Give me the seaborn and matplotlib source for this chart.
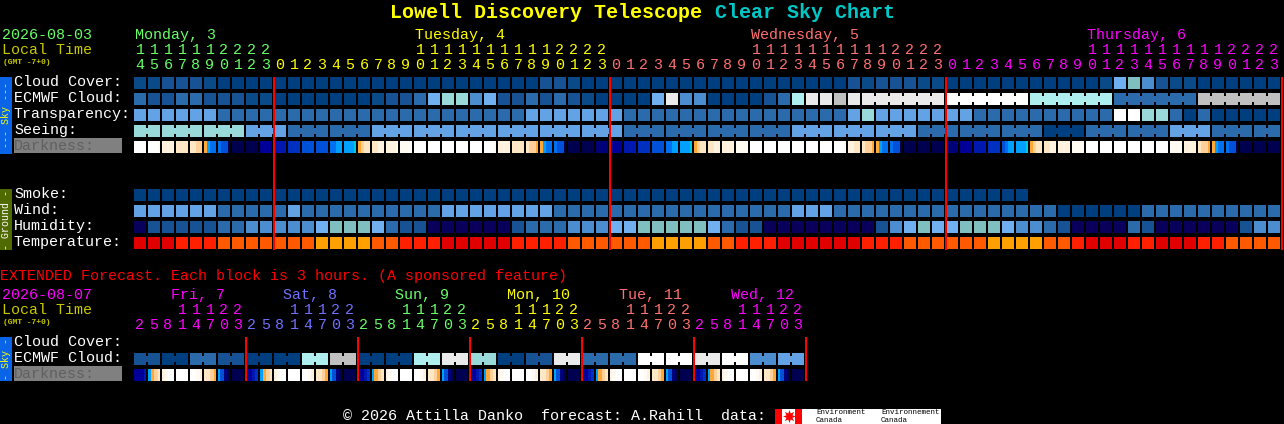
# ==========================================================
# Lowell Discovery Telescope - Clear Sky Chart
# ==========================================================

import numpy as np
import matplotlib
matplotlib.use("Agg")
import matplotlib.pyplot as plt
import seaborn as sns
from matplotlib.colors import ListedColormap
from matplotlib.patches import Rectangle

# ==========================================================
# Colours (one palette per kind of row)
# ==========================================================

sky_colors = ["#003f7f", "#0b4a88", "#175394", "#2c6bab", "#4c8dcf", "#63a3e5", "#70b0f0",
              "#80bfbf", "#99d9d9", "#aeeeee", "#c0c0c0", "#eaeaea", "#ffffff", "#08005a"]
temp_colors = ["#e00000", "#ff2000", "#ff5a00", "#ffa000"]
dark_colors = ["#ffffff", "#fffaf2", "#fff2df", "#ffe6c4", "#ffd09a", "#ffa838", "#00c8e0", "#00a0ff",
               "#0070f0", "#0050d8", "#0030c0", "#0018b0", "#000098", "#000078", "#000050"]

# ==========================================================
# Hourly forecast (82 columns, 14h Monday to 23h Thursday)
# ==========================================================

hours = [14, 15, 16, 17, 18, 19, 20, 21, 22, 23] + list(range(24)) * 3

cloud = [1, 1, 2, 2, 2, 1, 0, 0, 0, 0,
         0, 0, 0, 0, 0, 0, 0, 0, 0, 0, 0, 0, 0, 0, 0, 0, 0, 0, 0, 2, 2, 1, 0, 0,
         0, 0, 0, 0, 0, 0, 0, 0, 0, 0, 0, 0, 0, 0, 0, 0, 0, 2, 1, 2, 2, 2, 1, 1,
         0, 0, 0, 0, 0, 0, 0, 0, 0, 0, 0, 1, 6, 7, 4, 2, 1, 1, 0, 0, 0, 0, 0, 0]
ecmwf = [3, 2, 2, 3, 3, 2, 2, 2, 1, 1,
         0, 0, 0, 0, 0, 0, 0, 1, 2, 2, 3, 6, 8, 8, 4, 6, 2, 2, 3, 2, 3, 2, 1, 0,
         0, 0, 0, 6, 11, 4, 4, 0, 0, 0, 0, 2, 3, 9, 11, 11, 10, 11, 11, 11, 11, 11, 11, 11,
         12, 12, 12, 12, 12, 12, 9, 9, 9, 9, 9, 9, 3, 3, 3, 3, 3, 3, 10, 10, 10, 10, 10, 10]
transparency = [5, 5, 5, 5, 5, 5, 3, 3, 3, 3,
                3, 3, 3, 3, 3, 3, 3, 3, 3, 3, 3, 3, 3, 3, 3, 3, 3, 3, 5, 5, 5, 5, 5, 5,
                5, 3, 3, 3, 3, 3, 3, 3, 3, 3, 3, 3, 3, 3, 3, 3, 3, 5, 8, 5, 5, 5, 5, 5,
                5, 5, 3, 3, 3, 3, 3, 3, 3, 3, 3, 3, 12, 12, 8, 8, 3, 0, 3, 0, 0, 0, 0, 0]
seeing = [8, 8, 8, 8, 8, 8, 8, 8, 5, 5,
          5, 3, 3, 3, 3, 3, 3, 5, 5, 5, 5, 5, 5, 5, 5, 5, 5, 5, 5, 5, 5, 5, 5, 5,
          5, 3, 3, 3, 3, 3, 3, 3, 3, 3, 3, 3, 3, 5, 5, 5, 5, 5, 5, 5, 5, 5, 3, 3,
          3, 3, 3, 3, 3, 3, 3, 0, 0, 0, 3, 3, 3, 3, 3, 3, 5, 5, 5, 3, 3, 3, 3, 3]
smoke = [0] * 64 + [np.nan] * 18
wind = [5, 5, 5, 5, 5, 5, 3, 3, 3, 3,
        3, 5, 3, 3, 3, 3, 3, 3, 3, 3, 3, 3, 5, 5, 5, 5, 5, 5, 5, 5, 3, 3, 3, 3,
        3, 3, 3, 3, 3, 3, 3, 3, 3, 3, 3, 3, 3, 5, 5, 5, 3, 3, 3, 3, 3, 3, 3, 3,
        3, 3, 3, 3, 3, 3, 3, 3, 0, 0, 0, 0, 0, 0, 3, 3, 3, 3, 3, 3, 3, 3, 3, 3]
humidity = [13, 2, 2, 2, 2, 2, 3, 3, 4, 4,
            4, 4, 4, 6, 7, 7, 7, 6, 3, 2, 2, 13, 13, 13, 13, 13, 13, 2, 3, 3, 3, 4, 4, 4,
            6, 6, 7, 7, 7, 7, 7, 6, 3, 2, 2, 13, 13, 13, 13, 13, 13, 13, 13, 2, 4, 6, 7, 6,
            6, 7, 7, 7, 6, 4, 4, 3, 2, 13, 13, 13, 13, 3, 2, 13, 13, 13, 13, 13, 13, 2, 4, 4]
temperature = [0, 0, 0, 1, 1, 1, 2, 2, 2, 2,
               2, 2, 2, 3, 3, 3, 3, 2, 2, 1, 1, 1, 0, 0, 0, 0, 0, 1, 1, 1, 1, 2, 2, 2,
               2, 2, 2, 3, 3, 3, 3, 2, 2, 1, 1, 1, 0, 0, 0, 0, 0, 0, 1, 1, 1, 2, 2, 2,
               2, 2, 2, 3, 3, 3, 3, 2, 2, 1, 0, 0, 0, 1, 1, 0, 0, 0, 1, 1, 2, 2, 2, 2]

# Darkness changes within an hour, so each cell holds 4 samples (hex index into dark_colors)
darkness = ["0000", "0001", "2222", "3333", "3344", "5788", "899e", "eeee", "eeee", "cccc",
            "bbbb", "aaaa", "9999", "9999", "8877", "7776", "5433", "3322", "2221", "1110",
            "0000", "0000", "0000", "0000", "0000", "0001", "2222", "3333", "3445", "5788",
            "899e", "eeee", "eeee", "dddd",
            "cccc", "bbbb", "aaaa", "9999", "8877", "7776", "5433", "3322", "2222", "1111",
            "0000", "0000", "0000", "0000", "0000", "0000", "0001", "2233", "3445", "5788",
            "899e", "eeee", "eeee", "eeee",
            "dddd", "cccc", "bbbb", "aaaa", "9877", "7776", "5433", "3322", "2222", "1111",
            "0000", "0000", "0000", "0000", "0000", "0000", "1111", "2222", "3445", "5788",
            "899e", "eeee", "eeee", "eeee"]

seeing_groups = [2] + [3] * 26 + [2]
ecmwf_groups = [1] * 52 + [6] * 5

day_names = ["Monday, 3", "Tuesday, 4", "Wednesday, 5", "Thursday, 6"]
day_colors = ["#66ff66", "#ffff00", "#ff7070", "#ff00ff"]
day_label_cols = [0, 20, 44, 68]
day_breaks = [10, 34, 58, 82]

# ==========================================================
# Extended forecast (48 columns, 3 hour blocks)
# ==========================================================

ext_hours = [2, 5, 8, 11, 14, 17, 20, 23] * 6
ext_ecmwf = [2, 0, 3, 2, 0, 0, 9, 10, 0, 0, 9, 11, 8, 0, 2, 11, 3, 3, 12, 12, 11, 12, 4, 5]
ext_darkness = ["cccb", "7543", "2100", "0000", "0012", "3345", "79de", "eeee",
                "dcba", "7543", "2100", "0000", "0012", "3345", "79de", "eeee",
                "dcba", "7543", "2100", "0000", "0012", "3345", "79de", "eeee",
                "dcba", "7543", "2100", "0000", "0012", "3345", "79de", "eeee",
                "dcba", "7543", "2100", "0000", "0012", "3345", "79de", "eeee",
                "dcba", "7543", "2100", "0000", "0012", "3345", "79de", "eeee"]

ext_names = ["Fri, 7", "Sat, 8", "Sun, 9", "Mon, 10", "Tue, 11", "Wed, 12"]
ext_colors = ["#ff00ff", "#7070ff", "#66ff66", "#ffff00", "#ff7070", "#ff00ff"]

# ==========================================================
# Figure setup (everything is laid out in pixels)
# ==========================================================

W, H = 1284, 424
LEFT, CELL = 134, 14

sns.set_theme(style="dark", rc={"figure.facecolor": "black", "axes.facecolor": "black", "savefig.facecolor": "black"})
plt.rcParams["font.family"] = ["Liberation Mono"]

fig = plt.figure(figsize=(W / 100, H / 100), dpi=100)


def px(n):
    # just under n pixels, otherwise agg snaps the line half a pixel off
    return n * 0.995 * 72 / 100


def heat_row(y, values, colors, samples=1):
    # axes are exactly the 12px high row, black lines make the 2px gaps between cells
    ncols = len(values) // samples
    ax = fig.add_axes([(LEFT - 1) / W, 1 - (y + 12) / H, ncols * CELL / W, 12 / H])
    sns.heatmap(np.array([values], dtype=float), ax=ax, cmap=ListedColormap(colors), vmin=-0.5,
                vmax=len(colors) - 0.5, cbar=False, xticklabels=False, yticklabels=False)
    ax.vlines(np.arange(ncols + 1) * samples, 0, 1, colors="black", linewidth=px(2))
    ax.axis("off")
    return ax


def draw_row(y, values, colors, groups=None):
    ax = heat_row(y, values, colors)
    # joined cells come from the same model run
    if groups:
        start = 0
        for size in groups:
            for col in range(start + 1, start + size):
                ax.vlines(col, 0.25, 0.75, colors=colors[int(values[col])], linewidth=px(2))
            start += size


def draw_darkness(y, samples):
    values = [int(c, 16) for c in "".join(samples)]
    heat_row(y, values, dark_colors, samples=4)


draw_row(77, cloud, sky_colors)
draw_row(93, ecmwf, sky_colors, ecmwf_groups)
draw_row(109, transparency, sky_colors)
draw_row(125, seeing, sky_colors, seeing_groups)
draw_darkness(141, darkness)
draw_row(189, smoke, sky_colors)
draw_row(205, wind, sky_colors)
draw_row(221, humidity, sky_colors)
draw_row(237, temperature, temp_colors)
draw_row(353, list(np.repeat(ext_ecmwf, 2)), sky_colors, [2] * 24)
draw_darkness(369, ext_darkness)

# ==========================================================
# Text, side bars and day lines on a full size overlay
# ==========================================================

top = fig.add_axes([0, 0, 1, 1], zorder=10)
top.set_xlim(0, W)
top.set_ylim(H, 0)
top.axis("off")
top.patch.set_visible(False)

FS = 15 * 72 / 100


def label(x, y, text, color="white", size=FS, **kwargs):
    kwargs.setdefault("ha", "left")
    top.text(x, y, text, color=color, fontsize=size, va="center", **kwargs)


def day_line(x, y0, y1):
    top.add_patch(Rectangle((x - 1, y0), 2, y1 - y0, color="#ff0000", lw=0, antialiased=False))


# title
label(390, 12, "Lowell Discovery Telescope", "#ffff00", 20 * 0.72, fontweight="bold")
label(715, 12, "Clear Sky Chart", "#00c8c8", 20 * 0.72, fontweight="bold")

# main header
label(2, 35, "2026-08-03", "#66ff66")
label(2, 50, "Local Time", "#c8c800")
label(3, 62, "(GMT -7+0)", "#c8c800", 8 * 0.72, fontweight="bold")
for name, color, col in zip(day_names, day_colors, day_label_cols):
    label(LEFT + col * CELL + 1, 35, name, color)

start = 0
for color, stop in zip(day_colors, day_breaks):
    for col in range(start, stop):
        x = LEFT + col * CELL + 6
        if hours[col] >= 10:
            label(x, 50, str(hours[col] // 10), color, ha="center")
        label(x, 65, str(hours[col] % 10), color, ha="center")
    start = stop

# row names
for y, name in zip([82, 98, 114, 130], ["Cloud Cover:", "ECMWF Cloud:", "Transparency:", "Seeing:"]):
    label(14, y, name)
for y, name in zip([194, 210, 226, 242], ["Smoke:", "Wind:", "Humidity:", "Temperature:"]):
    label(14, y, name)
for y, name in zip([342, 358], ["Cloud Cover:", "ECMWF Cloud:"]):
    label(14, y, name)

top.add_patch(Rectangle((14, 138), 108, 15, color="#808080", lw=0))
label(14, 146, "Darkness:", "#606060")
top.add_patch(Rectangle((14, 366), 108, 15, color="#808080", lw=0))
label(14, 374, "Darkness:", "#606060")

# side bars
top.add_patch(Rectangle((0, 77), 12, 77, color="#0a64e8", lw=0))
top.add_patch(Rectangle((0, 189), 12, 61, color="#4f6a00", lw=0))
top.add_patch(Rectangle((0, 337), 12, 44, color="#0a64e8", lw=0))
label(6, 115.5, "--- Sky ---", "#ffff00", 10 * 0.72, rotation=90, ha="center", rotation_mode="anchor")
label(6, 219.5, "- Ground -", "white", 10 * 0.72, rotation=90, ha="center", rotation_mode="anchor")
label(6, 359, "- Sky -", "#ffff00", 10 * 0.72, rotation=90, ha="center", rotation_mode="anchor")

# day lines
for stop in day_breaks:
    day_line(LEFT + stop * CELL, 77, 250)

# extended forecast header
label(0, 276, "EXTENDED Forecast. Each block is 3 hours. (A sponsored feature)", "#ff0000")
label(2, 295, "2026-08-07", "#ff00ff")
label(2, 310, "Local Time", "#c8c800")
label(3, 322, "(GMT -7+0)", "#c8c800", 8 * 0.72, fontweight="bold")
for day, (name, color) in enumerate(zip(ext_names, ext_colors)):
    first = day * 8
    label(LEFT + first * CELL + 37, 295, name, color)
    for col in range(first, first + 8):
        x = LEFT + col * CELL + 6
        if ext_hours[col] >= 10:
            label(x, 310, str(ext_hours[col] // 10), color, ha="center")
        label(x, 325, str(ext_hours[col] % 10), color, ha="center")
    day_line(LEFT + (first + 8) * CELL, 337, 381)

# footer and logos
label(343, 416, "\u00a9 2026 Attilla Danko  forecast: A.Rahill  data:")
top.add_patch(Rectangle((775, 409), 166, 15, color="white", lw=0))
top.add_patch(Rectangle((775, 409), 7, 15, color="#ff0000", lw=0))
top.add_patch(Rectangle((795, 409), 7, 15, color="#ff0000", lw=0))
top.plot([788.5], [416], marker=(8, 1, 0), markersize=13 * 0.72, color="#ff0000", mew=0)
for x, word in [(816, "Environment"), (881, "Environnement")]:
    label(x, 412.5, word, "black", 7.5 * 0.72)
    label(x, 420.5, "Canada", "black", 7.5 * 0.72)

plt.savefig("out.png", dpi=100)
